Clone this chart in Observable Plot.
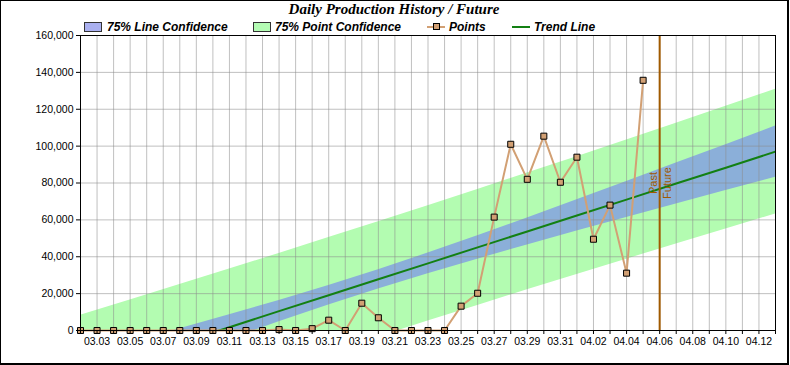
<!DOCTYPE html>
<html>
<head>
<meta charset="utf-8">
<script src="https://cdn.jsdelivr.net/npm/d3@7"></script>
<script src="https://cdn.jsdelivr.net/npm/@observablehq/plot@0.6"></script>
<style>
  html, body { margin: 0; padding: 0; background: #fff; }
  #box { position: relative; width: 786px; height: 362px; border-left: 1px solid #000; border-top: 1px solid #000; border-right: 2px solid #000; border-bottom: 2px solid #000; overflow: hidden; font-family: "Liberation Sans", Arial, sans-serif; }
  #title { position: absolute; top: 0; left: 0; width: 786px; height: 18px; line-height: 18px; text-align: center; font: italic bold 15px "Liberation Serif", "Times New Roman", serif; color: #000; }
  .lg { position: absolute; font: italic bold 12px "Liberation Sans", Arial, sans-serif; line-height: 12px; color: #000; white-space: nowrap; }
  .sw { position: absolute; box-sizing: border-box; width: 18px; height: 10px; border: 1px solid #333; }
  #chart { position: absolute; left: 0; top: 30px; }
</style>
</head>
<body>
<div id="box">
  <div id="title">Daily Production History / Future</div>
  <div class="sw" style="left:83px;top:21px;background:#aab0f0"></div>
  <div class="lg" style="left:106px;top:20px">75% Line Confidence</div>
  <div class="sw" style="left:252px;top:21px;background:#b4fcb4"></div>
  <div class="lg" style="left:274px;top:20px">75% Point Confidence</div>
  <div style="position:absolute;left:426px;top:25px;width:18px;height:2px;background:#d2a074"></div>
  <div style="position:absolute;box-sizing:border-box;left:432px;top:22px;width:7px;height:7px;border:1px solid #000;background:#d2a074"></div>
  <div class="lg" style="left:448px;top:20px">Points</div>
  <div style="position:absolute;left:511px;top:25px;width:18px;height:2px;background:#138013"></div>
  <div class="lg" style="left:533px;top:20px">Trend Line</div>
  <div id="chart"></div>
</div>
<script>
// ---- data ----
const year = 2021;
const pointDays = ["03.02","03.03","03.04","03.05","03.06","03.07","03.08","03.09","03.10","03.11","03.12","03.13","03.14","03.15","03.16","03.17","03.18","03.19","03.20","03.21","03.22","03.23","03.24","03.25","03.26","03.27","03.28","03.29","03.30","03.31","04.01","04.02","04.03","04.04","04.05"];
const pointValues = [0,0,0,0,0,0,0,0,0,0,0,0,500,0,1000,5600,0,14800,6900,0,0,0,0,13200,20200,61500,101000,82000,105400,80400,94000,49500,68000,31100,135700];

const trendDays = ["03.02","03.05","03.08","03.11","03.14","03.17","03.20","03.23","03.26","03.29","04.01","04.04","04.07","04.10","04.13"];
const trendValues = [-24100,-15500,-6800,1800,10500,19100,27800,36400,45100,53700,62400,71000,79700,88300,97000];
const lineLow  = [-34300,-24400,-14500,-4800,4700,13800,22500,30800,38700,46400,53900,61300,68600,75900,83100];
const lineHigh = [-14000,-6600,900,8500,16300,24400,33000,42000,51400,61000,70900,80800,90800,100800,110900];
const pointLow  = [-56600,-47600,-38600,-29700,-20900,-12100,-3500,5100,13600,22100,30400,38700,46900,55100,63200];
const pointHigh = [8300,16600,24900,33300,41800,50400,59000,67700,76500,85400,94300,103300,112400,121600,130800];

const splitDay = "04.06";
const domainDays = ["03.02","04.13"];
const xTickLabels = ["03.03","03.05","03.07","03.09","03.11","03.13","03.15","03.17","03.19","03.21","03.23","03.25","03.27","03.29","03.31","04.02","04.04","04.06","04.08","04.10","04.12"];
const yTicks = [0,20000,40000,60000,80000,100000,120000,140000,160000];

// ---- build ----
const toDate = s => new Date(Date.UTC(year, +s.slice(0,2) - 1, +s.slice(3)));
const points = pointDays.map((d, i) => ({date: toDate(d), value: pointValues[i]}));
const trend = trendDays.map((d, i) => ({date: toDate(d), t: trendValues[i], l0: lineLow[i], l1: lineHigh[i], p0: pointLow[i], p1: pointHigh[i]}));
const domain = domainDays.map(toDate);
const allDays = d3.utcDay.range(domain[0], d3.utcDay.offset(domain[1], 1));
const labelDates = xTickLabels.map(toDate);
const labelMap = new Map(labelDates.map((d, i) => [+d, xTickLabels[i]]));
const split = toDate(splitDay);
const brown = "#a05a00";

const chart = Plot.plot({
  width: 786,
  height: 331,
  marginTop: 4,
  marginBottom: 32,
  marginLeft: 79,
  marginRight: 12,
  style: {fontFamily: "'Liberation Sans', Arial, sans-serif", fontSize: "10.5px", background: "transparent", overflow: "visible", color: "#000"},
  x: {type: "utc", domain, axis: null},
  y: {domain: [0, 160000], axis: null},
  marks: [
    Plot.areaY(trend, {x: "date", y1: "p0", y2: "p1", fill: "#b3fcb1", clip: true}),
    Plot.areaY(trend, {x: "date", y1: "l0", y2: "l1", fill: "#8bafd9", clip: true}),
    Plot.gridX({ticks: allDays, stroke: "#8c8c8c", strokeOpacity: 0.55}),
    Plot.gridY({ticks: yTicks, stroke: "#8c8c8c", strokeOpacity: 0.55}),
    Plot.line(trend, {x: "date", y: "t", stroke: "#138013", strokeWidth: 2, clip: true}),
    Plot.ruleX([split], {stroke: brown, strokeWidth: 2}),
    Plot.text(["Past"], {x: [split], frameAnchor: "middle", rotate: -90, dx: -6, fill: brown, fontSize: 11}),
    Plot.text(["Future"], {x: [split], frameAnchor: "middle", rotate: -90, dx: 8, fill: brown, fontSize: 11}),
    Plot.line(points, {x: "date", y: "value", stroke: "#d2a074", strokeWidth: 2}),
    Plot.dot(points, {x: "date", y: "value", symbol: "square", r: 3.4, fill: "#d2a074", stroke: "#000", strokeWidth: 1}),
    Plot.axisY({ticks: yTicks, tickFormat: d3.format(","), tickSize: 4, tickPadding: 3, stroke: "#000"}),
    Plot.axisX({ticks: allDays, tickFormat: () => "", tickSize: 4, stroke: "#000"}),
    Plot.axisX({ticks: labelDates, tickFormat: d => labelMap.get(+d), tickSize: 0, tickPadding: 7}),
    Plot.frame({stroke: "#000"})
  ]
});
document.getElementById("chart").append(chart);
</script>
</body>
</html>
